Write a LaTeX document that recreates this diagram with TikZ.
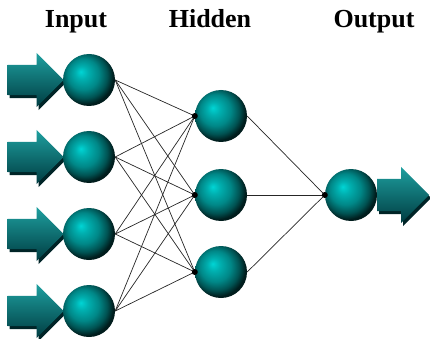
\documentclass[tikz,border=0pt]{standalone}
\usepackage{fontspec}
\setmainfont{Liberation Serif}
\usetikzlibrary{shapes.arrows,shadows}
\definecolor{neuroncol}{RGB}{0,150,150}
\definecolor{arrowtop}{RGB}{30,160,160}
\definecolor{arrowbot}{RGB}{0,60,65}
\pgfdeclareradialshading{sphere}{\pgfpoint{-8bp}{8bp}}{%
  color(0bp)=(cyan!60!neuroncol); color(6bp)=(cyan!25!neuroncol);
  color(15bp)=(neuroncol!90!black); color(22bp)=(neuroncol!55!black);
  color(27bp)=(neuroncol!20!black); color(50bp)=(black)}
\begin{document}
\begin{tikzpicture}[x=1pt,y=-1pt,
    neuron/.style={circle,minimum size=52pt,inner sep=0pt,shading=sphere},
    flow/.style={single arrow,single arrow head extend=12pt,inner sep=0pt,
      minimum width=54pt,top color=arrowtop,bottom color=arrowbot,
      drop shadow={shadow xshift=2pt,shadow yshift=-3pt,fill=arrowbot!60!black,opacity=1}},
    layertitle/.style={anchor=base,font=\bfseries\fontsize{26}{28}\selectfont}]
  \useasboundingbox (0,0) rectangle (430,339);
  \node[layertitle] (tin) at (76,28) {Input};
  \node[layertitle] (thid) at (210,28) {Hidden};
  \node[layertitle] (tout) at (374,28) {Output};
  \draw
    (89,80) coordinate (c1)
    (89,157) coordinate (c2)
    (89,234) coordinate (c3)
    (89,311) coordinate (c4)
    (377,195) coordinate (c5);
  \node[flow,anchor=tip,minimum height=56pt,inner ysep=15pt] (a1) at ([xshift=-25pt]c1) {};
  \node[flow,anchor=tip,minimum height=56pt,inner ysep=15pt] (a2) at ([xshift=-25pt]c2) {};
  \node[flow,anchor=tip,minimum height=56pt,inner ysep=15pt] (a3) at ([xshift=-25pt]c3) {};
  \node[flow,anchor=tip,minimum height=56pt,inner ysep=15pt] (a4) at ([xshift=-25pt]c4) {};
  \node[flow,anchor=tail,minimum height=52pt,inner ysep=16pt] (aout) at (c5) {};
  \draw
    (89,80) node[neuron] (in1){}
    (89,157) node[neuron] (in2){}
    (89,234) node[neuron] (in3){}
    (89,311) node[neuron] (in4){}
    (221,116) node[neuron] (hid1){}
    (221,195) node[neuron] (hid2){}
    (221,272) node[neuron] (hid3){}
    (351,195) node[neuron] (out){};
  \begin{scope}[-,line width=0.7pt,black!85]
    \draw (in1.east) to (hid1.west);
    \draw (in1.east) to (hid2.west);
    \draw (in1.east) to (hid3.west);
    \draw (in2.east) to (hid1.west);
    \draw (in2.east) to (hid2.west);
    \draw (in2.east) to (hid3.west);
    \draw (in3.east) to (hid1.west);
    \draw (in3.east) to (hid2.west);
    \draw (in3.east) to (hid3.west);
    \draw (in4.east) to (hid1.west);
    \draw (in4.east) to (hid2.west);
    \draw (in4.east) to (hid3.west);
    \draw (hid1.east) to (out.west);
    \draw (hid2.east) to (out.west);
    \draw (hid3.east) to (out.west);
  \end{scope}
  \fill (hid1.west) circle (3pt) (hid2.west) circle (3pt)
    (hid3.west) circle (3pt) (out.west) circle (3pt);
\end{tikzpicture}
\end{document}
